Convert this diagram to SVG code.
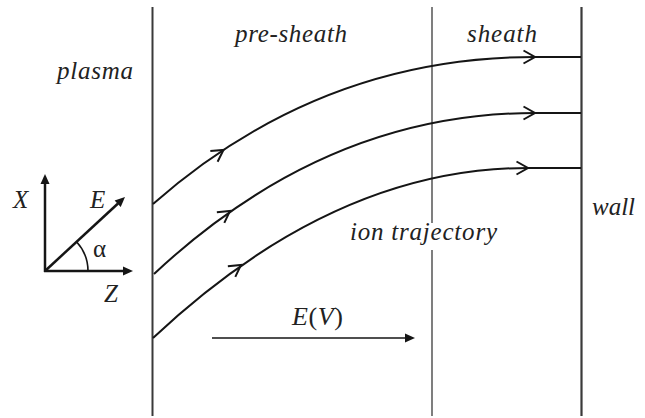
<svg xmlns="http://www.w3.org/2000/svg" width="645" height="418" viewBox="0 0 645 418">
<style>
.u{font-style:normal}
.v{stroke:#3a3a3a;fill:none}
.c{stroke:#151515;stroke-width:2;fill:none}
.ch{stroke:#151515;stroke-width:2;fill:none;stroke-linejoin:miter}
.ax{stroke:#151515;stroke-width:2.5;fill:none}
.ah{fill:#151515}
</style>
<defs>
<path id="chev" d="M-11.5,-6.5 L0,0 L-11.5,6.5"/>
<path id="tri" d="M0,0 L-10,-4.5 L-10,4.5 Z"/>
</defs>
<g id="boundaries">
<line class="v" x1="152.5" y1="7" x2="152.5" y2="416" stroke-width="2"/>
<line class="v" x1="432" y1="7" x2="432" y2="416" stroke-width="1.3"/>
<line class="v" x1="581.5" y1="7" x2="581.5" y2="416" stroke-width="2.2"/>
</g>
<g id="connectors">
<path class="c" d="M153,204 Q320,57 535,57 L581,57"/>
<path class="c" d="M154,274 Q326,113 535,113 L581,113"/>
<path class="c" d="M153,338 Q334,168 528,168 L581,168"/>
<use href="#chev" class="ch" transform="translate(223.5,150) rotate(-34)"/>
<use href="#chev" class="ch" transform="translate(230,211) rotate(-35)"/>
<use href="#chev" class="ch" transform="translate(241,265) rotate(-35)"/>
<use href="#chev" class="ch" transform="translate(535,57)"/>
<use href="#chev" class="ch" transform="translate(535,113)"/>
<use href="#chev" class="ch" transform="translate(528,168)"/>
<line x1="212" y1="338" x2="406" y2="338" stroke="#151515" stroke-width="1.5"/>
<use href="#tri" class="ah" transform="translate(415,338)"/>
</g>
<g font-family="Liberation Serif, Times New Roman, serif" font-style="italic" font-size="25" fill="#222">
<g id="axes">
<line class="ax" x1="45" y1="272" x2="45" y2="183"/>
<use href="#tri" class="ah" transform="translate(45,174) rotate(-90)"/>
<line class="ax" x1="44" y1="271" x2="124" y2="271"/>
<use href="#tri" class="ah" transform="translate(133,271)"/>
<line class="ax" x1="45" y1="271" x2="118" y2="203.5"/>
<use href="#tri" class="ah" transform="translate(125,197) rotate(-42.8)"/>
<path d="M88,271 A43,43 0 0 0 76.5,241.8" stroke="#151515" stroke-width="1.6" fill="none"/>
<text x="13" y="208">X</text>
<text x="90" y="208">E</text>
<text class="u" x="93" y="257">α</text>
<text x="104" y="302">Z</text>
</g>
<g id="plasma"><text x="57" y="79" textLength="76">plasma</text></g>
<g id="pre-sheath"><text x="235" y="42" textLength="112">pre-sheath</text></g>
<g id="sheath"><text x="467" y="42" textLength="70">sheath</text></g>
<g id="wall"><text x="592" y="215">wall</text></g>
<g id="ion-trajectory">
<rect x="348" y="223" width="152" height="27" fill="#fff"/>
<text x="350" y="240" textLength="147">ion trajectory</text>
</g>
<g id="field"><text x="292" y="325" font-size="26" textLength="51">E<tspan class="u">(</tspan>V<tspan class="u">)</tspan></text></g>
</g>
</svg>
